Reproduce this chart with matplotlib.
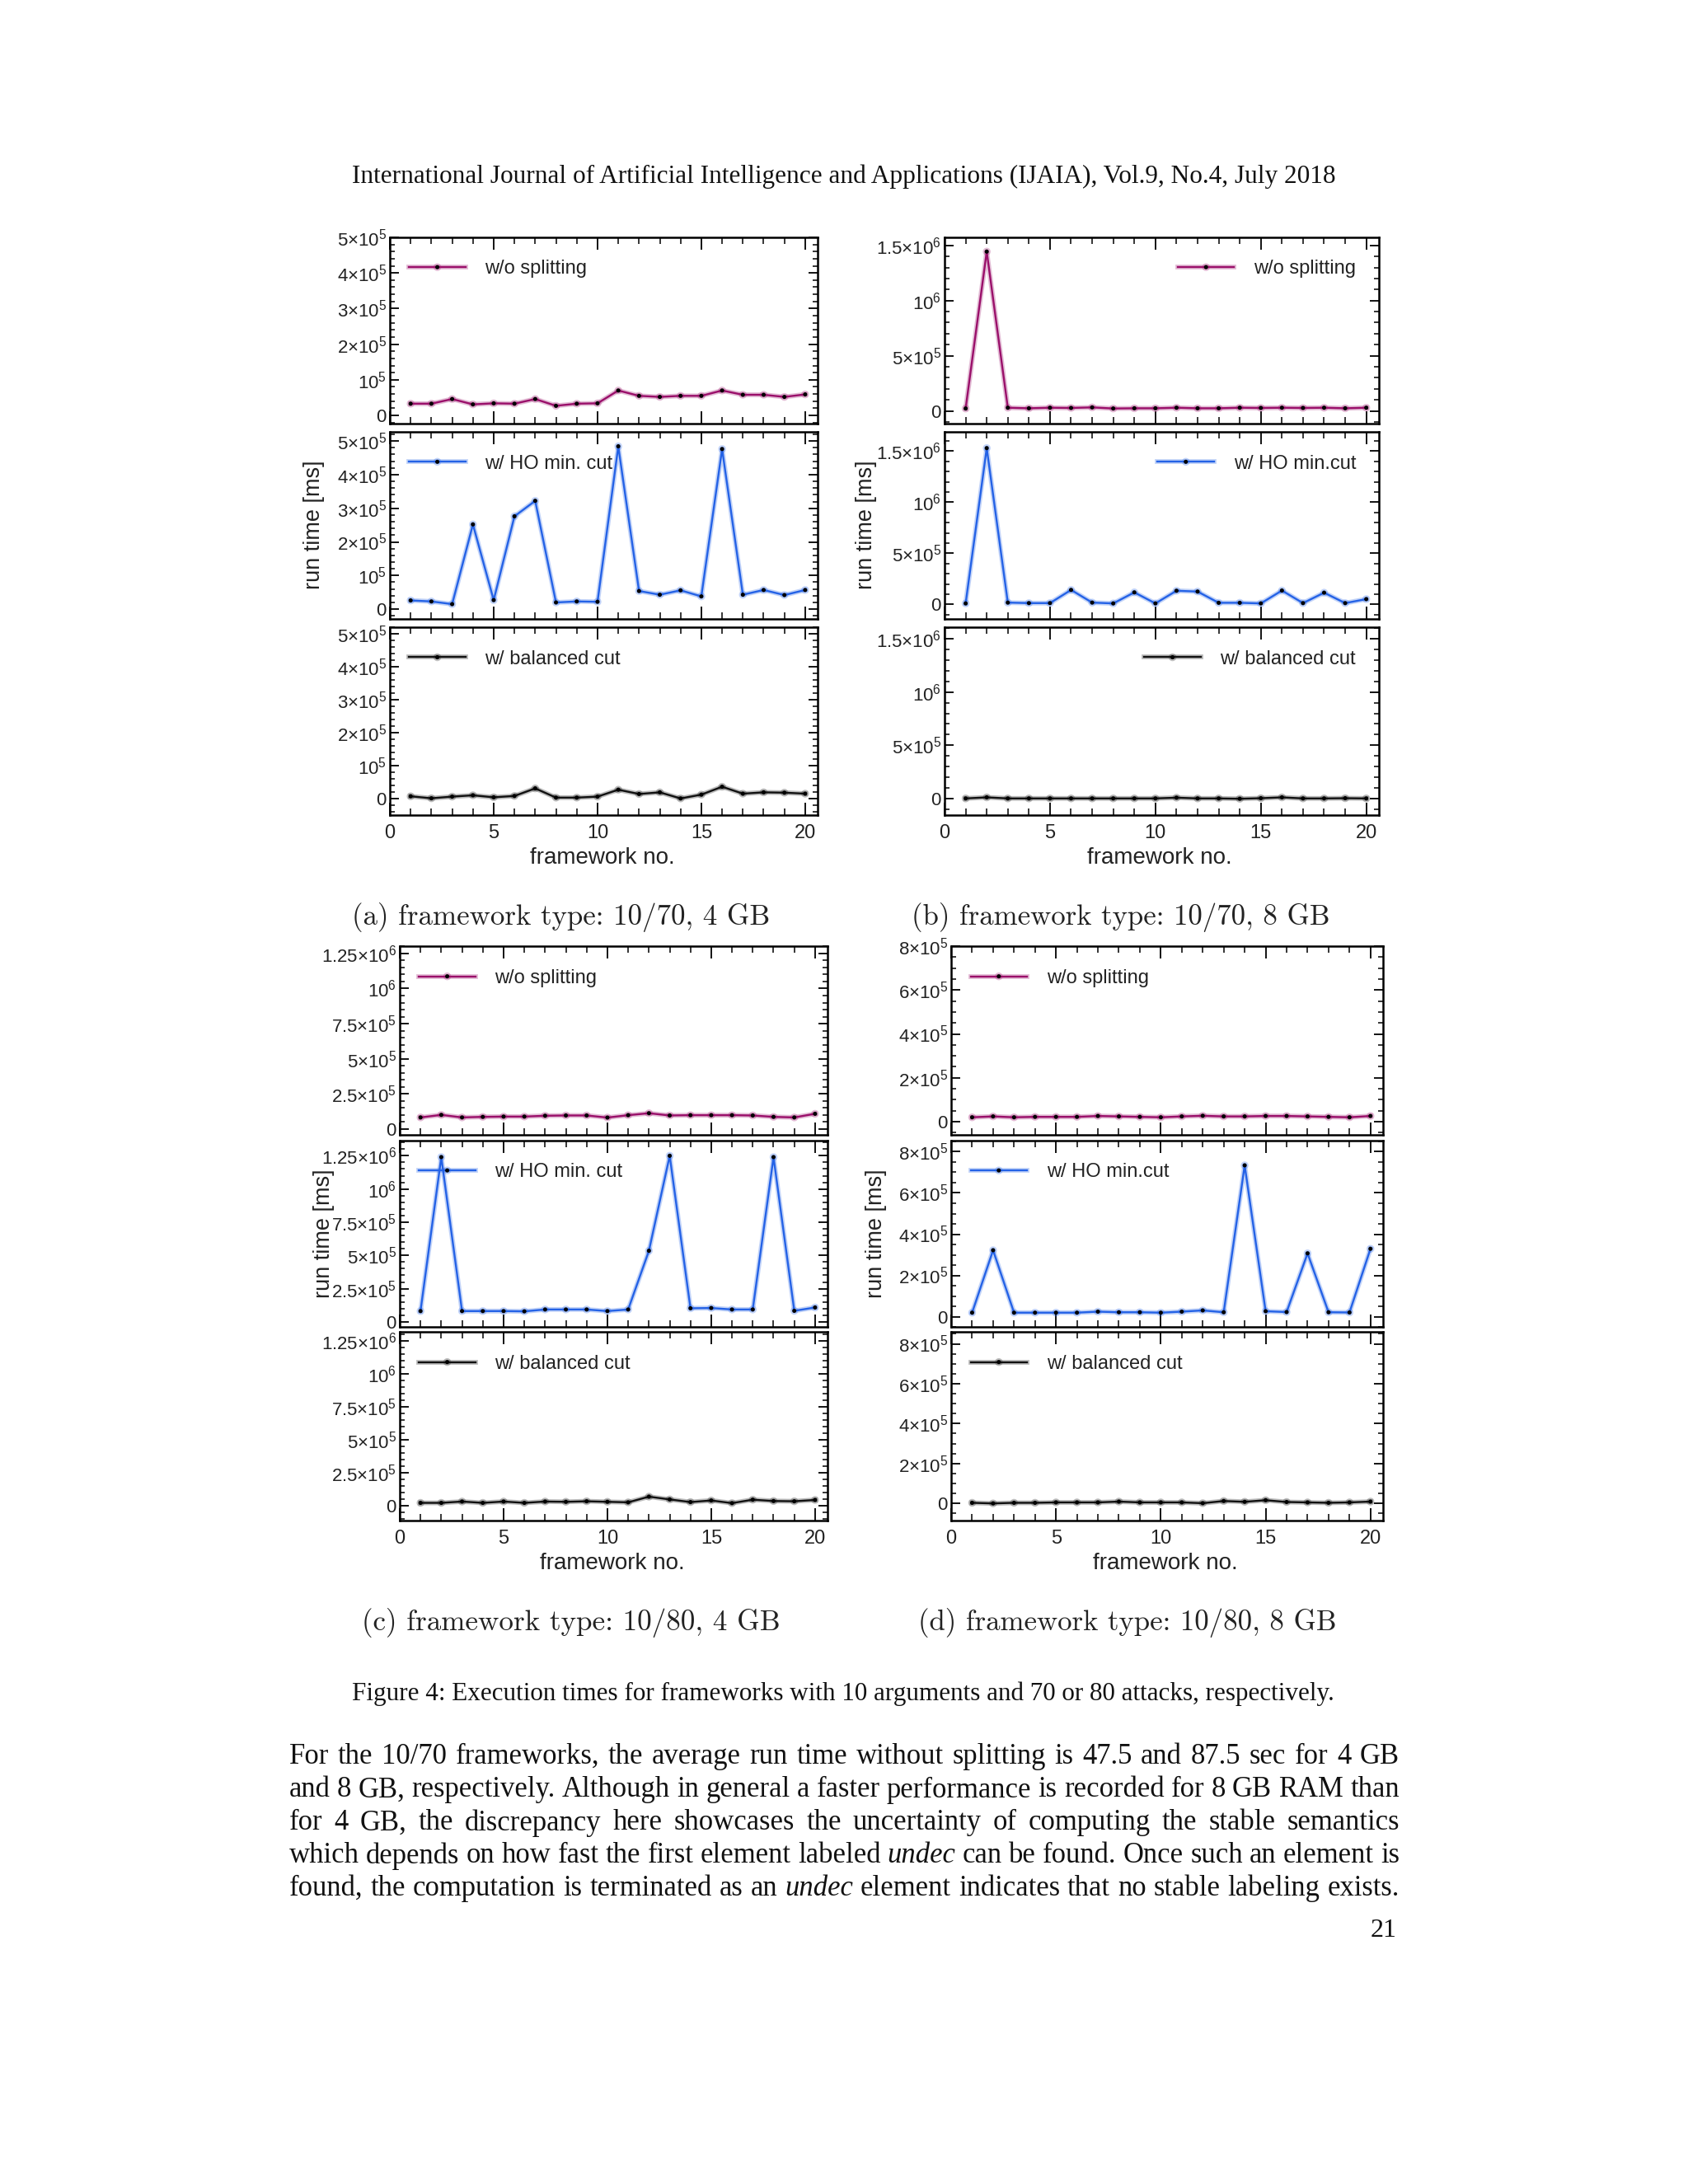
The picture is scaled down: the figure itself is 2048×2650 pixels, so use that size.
import matplotlib
matplotlib.use("Agg")
import matplotlib.pyplot as plt
import matplotlib.patheffects as pe
from matplotlib.ticker import MultipleLocator, FixedLocator

plt.rcParams['mathtext.fontset'] = 'custom'
plt.rcParams['mathtext.rm'] = 'Liberation Sans'
plt.rcParams['mathtext.it'] = 'Liberation Sans:italic'
plt.rcParams['mathtext.bf'] = 'Liberation Sans:bold'
plt.rcParams['font.family'] = ['Liberation Sans', 'DejaVu Sans']

# ---------------- data ----------------
framework_no = list(range(1, 21))

a_wo = [33000, 33000, 46000, 31000, 34000, 33000, 46000, 27000, 33000, 34000,
        70000, 55000, 52000, 55000, 55000, 70000, 58000, 58000, 52000, 59000]
a_ho = [26000, 23000, 15000, 252000, 27000, 276000, 322000, 20000, 23000, 22000,
        484000, 54000, 43000, 56000, 38000, 476000, 43000, 57000, 42000, 57000]
a_bal = [7000, 1000, 6000, 10000, 4000, 8000, 31000, 3000, 3000, 6000,
         27000, 14000, 19000, 500, 12000, 36000, 15000, 19000, 18000, 15000]

b_wo = [22000, 1444000, 29000, 24000, 29000, 27000, 32000, 22000, 24000, 24000,
        29000, 24000, 24000, 29000, 27000, 29000, 27000, 29000, 24000, 29000]
b_ho = [10000, 1530000, 18000, 13000, 13000, 142000, 18000, 10000, 118000, 10000,
        134000, 126000, 16000, 16000, 10000, 136000, 13000, 115000, 13000, 52000]
b_bal = [3000, 13000, 3000, 3000, 3000, 3000, 3000, 3000, 3000, 3000,
         10000, 3000, 3000, 0, 5000, 13000, 3000, 3000, 5000, 3000]

c_wo = [83000, 101000, 83000, 87000, 89000, 89000, 95000, 97000, 97000, 82000,
        99000, 113000, 97000, 99000, 99000, 99000, 97000, 87000, 83000, 109000]
c_ho = [81000, 1240000, 81000, 81000, 81000, 79000, 93000, 93000, 93000, 81000,
        93000, 535000, 1250000, 102000, 104000, 93000, 93000, 1240000, 83000, 108000]
c_bal = [23000, 23000, 33000, 23000, 33000, 23000, 33000, 31000, 35000, 31000,
         27000, 70000, 49000, 29000, 41000, 21000, 47000, 37000, 35000, 45000]

d_wo = [20000, 24000, 20000, 22000, 22000, 22000, 26000, 24000, 22000, 20000,
        24000, 27000, 24000, 24000, 26000, 26000, 24000, 22000, 20000, 26000]
d_ho = [19000, 322000, 19000, 19000, 19000, 19000, 24000, 21000, 21000, 19000,
        24000, 30000, 21000, 734000, 26000, 22000, 307000, 21000, 20000, 329000]
d_bal = [3000, 0, 3000, 3000, 5000, 5000, 5000, 9000, 5000, 5000,
         5000, 1000, 12000, 8000, 16000, 7000, 5000, 3000, 5000, 9000]

legend_wo = "w/o splitting"
legend_ho_ac = "w/ HO min. cut"
legend_ho_bd = "w/ HO min.cut"
legend_bal = "w/ balanced cut"

captions = ["(a) framework type: 10/70, 4 GB", "(b) framework type: 10/70, 8 GB",
            "(c) framework type: 10/80, 4 GB", "(d) framework type: 10/80, 8 GB"]

header = "International Journal of Artificial Intelligence and Applications (IJAIA), Vol.9, No.4, July 2018"
fig_caption = "Figure 4: Execution times for frameworks with 10 arguments and 70 or 80 attacks, respectively."
body_lines = [
    [("For the 10/70 frameworks, the average run time without splitting is 47.5 and 87.5 sec for 4 GB", False)],
    [("and 8 GB, respectively. Although in general a faster performance is recorded for 8 GB RAM than", False)],
    [("for 4 GB, the discrepancy here showcases the uncertainty of computing the stable semantics", False)],
    [("which depends on how fast the first element labeled", False), ("undec", True),
     ("can be found. Once such an element is", False)],
    [("found, the computation is terminated as an", False), ("undec", True),
     ("element indicates that no stable labeling exists.", False)],
]
page_no = "21"

# y tick sets
ticks_5 = [0, 1e5, 2e5, 3e5, 4e5, 5e5]
labels_5 = ["0", r"$10^5$", r"$2{\times}10^5$", r"$3{\times}10^5$", r"$4{\times}10^5$", r"$5{\times}10^5$"]
ticks_15 = [0, 5e5, 1e6, 1.5e6]
labels_15 = ["0", r"$5{\times}10^5$", r"$10^6$", r"$1.5{\times}10^6$"]
ticks_125 = [0, 2.5e5, 5e5, 7.5e5, 1e6, 1.25e6]
labels_125 = ["0", r"$2.5{\times}10^5$", r"$5{\times}10^5$", r"$7.5{\times}10^5$", r"$10^6$", r"$1.25{\times}10^6$"]
ticks_8 = [0, 2e5, 4e5, 6e5, 8e5]
labels_8 = ["0", r"$2{\times}10^5$", r"$4{\times}10^5$", r"$6{\times}10^5$", r"$8{\times}10^5$"]

C_WO = "#9a0f6a"
C_HO = "#2462e6"
C_BAL = "#111111"
TXT = "#222222"

W, H = 2048, 2650
fig = plt.figure(figsize=(W / 100, H / 100), dpi=100)
fig.patch.set_facecolor("white")
renderer = fig.canvas.get_renderer()


def px_axes(x0, x1, y0, y1):
    return fig.add_axes([x0 / W, 1 - y1 / H, (x1 - x0) / W, (y1 - y0) / H])


def style_axes(ax, ylim, yticks, ylabels, yminor, show_x):
    ax.set_xlim(0, 20.6)
    ax.set_ylim(*ylim)
    ax.xaxis.set_major_locator(FixedLocator([0, 5, 10, 15, 20]))
    ax.xaxis.set_minor_locator(MultipleLocator(1))
    ax.set_yticks(yticks)
    ax.set_yticklabels(ylabels)
    ax.yaxis.set_minor_locator(MultipleLocator(yminor))
    ax.tick_params(axis='x', which='major', direction='in', length=11, width=1.3,
                   top=True, bottom=True, labelsize=17, pad=8, labelbottom=show_x,
                   labelcolor=TXT)
    ax.tick_params(axis='x', which='minor', direction='in', length=6, width=1.1,
                   top=True, bottom=True)
    ax.tick_params(axis='y', which='major', direction='in', length=8, width=1.3,
                   left=True, right=True, labelsize=16, pad=3, labelcolor=TXT)
    ax.tick_params(axis='y', which='minor', direction='in', length=4.5, width=1.1,
                   left=True, right=True)
    for s in ax.spines.values():
        s.set_linewidth(1.8)


def draw_series(ax, y, color, label, loc):
    ax.plot(framework_no, y, color=color, lw=1.7, marker='o', ms=2.6,
            mfc='black', mec='black', label=label,
            path_effects=[pe.Stroke(linewidth=4.2, foreground=color, alpha=0.28), pe.Normal()])
    kw = dict(frameon=False, fontsize=17, handlelength=2.9, handletextpad=1.0,
              borderpad=0, borderaxespad=0, numpoints=1)
    if loc == 'left':
        leg = ax.legend(loc='center left', bbox_to_anchor=(0.045, 0.83), **kw)
    else:
        leg = ax.legend(loc='center right', bbox_to_anchor=(0.947, 0.83), **kw)
    for t in leg.get_texts():
        t.set_color(TXT)


panels = [
    dict(x=(473, 992), rows=[(288, 514), (524, 751), (761, 989)],
         data=[a_wo, a_ho, a_bal], ylims=[(-2.3e4, 5e5), (-2.9e4, 5.27e5), (-5e4, 5.2e5)],
         ticks=ticks_5, labels=labels_5, minor=2e4, loc=['left', 'left', 'left'], ho=legend_ho_ac),
    dict(x=(1146, 1673), rows=[(288, 514), (524, 751), (761, 989)],
         data=[b_wo, b_ho, b_bal], ylims=[(-1.15e5, 1.573e6), (-1.42e5, 1.689e6), (-1.53e5, 1.607e6)],
         ticks=ticks_15, labels=labels_15, minor=1e5, loc=['right', 'right', 'right'], ho=legend_ho_bd),
    dict(x=(485, 1004), rows=[(1148, 1377), (1384, 1610), (1616, 1845)],
         data=[c_wo, c_ho, c_bal], ylims=[(-4.1e4, 1.302e6), (-3.8e4, 1.364e6), (-1.11e5, 1.318e6)],
         ticks=ticks_125, labels=labels_125, minor=5e4, loc=['left', 'left', 'left'], ho=legend_ho_ac),
    dict(x=(1154, 1678), rows=[(1148, 1377), (1384, 1610), (1616, 1845)],
         data=[d_wo, d_ho, d_bal], ylims=[(-6e4, 8e5), (-5e4, 8.54e5), (-8.6e4, 8.6e5)],
         ticks=ticks_8, labels=labels_8, minor=5e4, loc=['left', 'left', 'left'], ho=legend_ho_bd),
]

for p in panels:
    colors = [C_WO, C_HO, C_BAL]
    labs = [legend_wo, p['ho'], legend_bal]
    for i, (y0, y1) in enumerate(p['rows']):
        ax = px_axes(p['x'][0], p['x'][1], y0, y1)
        style_axes(ax, p['ylims'][i], p['ticks'], p['labels'], p['minor'], i == 2)
        draw_series(ax, p['data'][i], colors[i], labs[i], p['loc'][i])

# axis labels
for (x, y) in [(381, 637), (1051, 637), (393, 1497), (1063, 1497)]:
    fig.text(x / W, 1 - y / H, "run time [ms]", rotation=90, ha='center', va='center',
             fontsize=19.5, color=TXT)
for (x, y) in [(731, 1041), (1407, 1041), (743, 1897), (1414, 1897)]:
    fig.text(x / W, 1 - y / H, "framework no.", ha='center', va='center',
             fontsize=20, color=TXT)


def fit_text(x, y, s, width_px, family, ha='center', color="#111111", **kw):
    t = fig.text(x / W, 1 - y / H, s, ha=ha, va='center', fontsize=20, family=family,
                 color=color, **kw)
    w = t.get_window_extent(renderer=renderer).width
    t.set_fontsize(20 * width_px / w)
    return t


cm = ['cmr10', 'DejaVu Serif']
for cap, (x, y) in zip(captions, [(681, 1113), (1360, 1113), (693, 1969), (1368, 1969)]):
    fit_text(x, y, cap, 508, cm, color=TXT)

serif = ['Liberation Serif', 'DejaVu Serif']
fit_text(1024, 214, header, 1193, serif)
fit_text(1023, 2055, fig_caption, 1193, serif)
fig.text(1695 / W, 1 - 2342 / H, page_no, ha='right', va='center', fontsize=23,
         family=serif, color="#111111")

# justified body text
left_px, right_px = 351, 1698
line_y = [2131, 2172, 2212, 2252, 2291]

# choose body font size so that the last (fullest) line fits naturally
probe = fig.text(0, 0, "".join(s for s, _ in body_lines[4]) + "  ", fontsize=20, family=serif)
probe_w = probe.get_window_extent(renderer=renderer).width
probe.remove()
body_fs = 20 * (right_px - left_px) / probe_w * 0.995

for segs, y in zip(body_lines, line_y):
    words = []
    for txt, ital in segs:
        for w_ in txt.split(" "):
            words.append((w_, ital))
    objs, widths = [], []
    for w_, ital in words:
        t = fig.text(0, 1 - y / H, w_, ha='left', va='center', fontsize=body_fs,
                     family=serif, style='italic' if ital else 'normal', color="#111111")
        objs.append(t)
        widths.append(t.get_window_extent(renderer=renderer).width)
    gap = (right_px - left_px - sum(widths)) / (len(words) - 1)
    x = left_px
    for t, wd in zip(objs, widths):
        t.set_x(x / W)
        x += wd + gap

fig.savefig("out.png", dpi=100, facecolor="white")
